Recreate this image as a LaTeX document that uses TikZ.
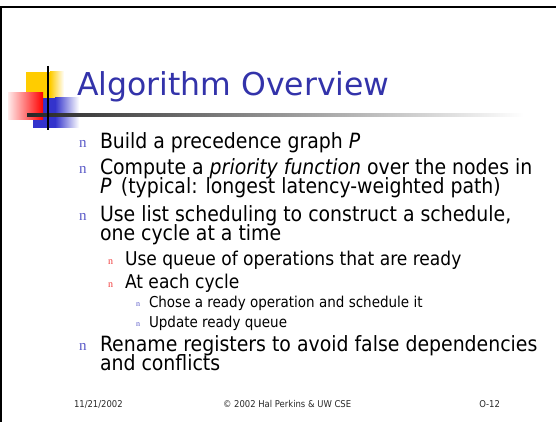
\documentclass[tikz,border=0pt]{standalone}
\usepackage{fontspec}
\setmainfont{DejaVu Sans Condensed}[ItalicFont={DejaVu Sans Condensed Oblique}]
\newfontfamily\titlefont{DejaVu Sans}
\newfontfamily\bulletfont{Liberation Serif}
\definecolor{titleblue}{RGB}{51,51,170}
\definecolor{markblue}{RGB}{90,90,200}
\definecolor{markred}{RGB}{240,60,60}
\definecolor{deco yellow}{RGB}{255,204,0}
\definecolor{deco blue}{RGB}{51,51,204}
\definecolor{footgray}{RGB}{40,40,40}
\begin{document}
\begin{tikzpicture}[x=1pt,y=-1pt,
  txt/.style={anchor=base west,inner sep=0pt,outer sep=0pt},
  lvlone/.style={txt,font=\fontsize{21}{24}\selectfont},
  lvltwo/.style={txt,font=\fontsize{19}{22}\selectfont},
  lvlthree/.style={txt,font=\fontsize{15}{18}\selectfont},
  markone/.style={txt,font=\bulletfont\fontsize{15}{18}\selectfont,text=markblue},
  marktwo/.style={txt,font=\bulletfont\fontsize{10}{12}\selectfont,text=markred},
  markthree/.style={txt,font=\bulletfont\fontsize{8}{10}\selectfont,text=markblue},
  foot/.style={txt,font=\fontsize{9.4}{11}\selectfont,text=footgray}]
\useasboundingbox (0,0) rectangle (556,422);
\fill[white] (0,0) rectangle (556,422);

% slide frame
\draw[line width=2.4pt,black] (1.2,422) -- (1.2,7) -- (556,7);

% title ornament: coloured squares, crossing rules
\fill[deco yellow] (26,72) rectangle (50,100);
\shade[left color=deco yellow,right color=white] (50,72) rectangle (64,100);
\fill[deco blue] (33,98) rectangle (55,128);
\shade[left color=deco blue,right color=white] (55,98) rectangle (79,128);
\shade[left color=red!8,right color=red] (8,93) rectangle (43,120);
\shade[left color=black!85,right color=white] (27,113.7) rectangle (524,116.3);
\draw[line width=2pt,black] (48,66) -- (48,130);

% title
\node[txt,font=\titlefont\fontsize{31.5}{36}\selectfont,text=titleblue] (title) at (77,96) {Algorithm Overview};

% level one items
\node[markone] (m1) at (79,148) {n};
\node[lvlone] (t1) at (100,149) {Build a precedence graph \textit{P}};
\node[markone] (m2) at (79,174) {n};
\node[lvlone] (t2a) at (100,175) {Compute a \textit{priority function} over the nodes in};
\node[lvlone] (t2b) at (100,193) {\textit{P}\, (typical: longest latency-weighted path)};
\node[markone] (m3) at (79,220) {n};
\node[lvlone] (t3a) at (100,221) {Use list scheduling to construct a schedule,};
\node[lvlone] (t3b) at (100,240) {one cycle at a time};

% level two items
\node[marktwo] (m31) at (108,264) {n};
\node[lvltwo] (t31) at (125,265) {Use queue of operations that are ready};
\node[marktwo] (m32) at (108,287) {n};
\node[lvltwo] (t32) at (125,288) {At each cycle};

% level three items
\node[markthree] (m321) at (136,306) {n};
\node[lvlthree] (t321) at (149,307) {Chose a ready operation and schedule it};
\node[markthree] (m322) at (136,326) {n};
\node[lvlthree] (t322) at (149,327) {Update ready queue};

% last level one item
\node[markone] (m4) at (79,350) {n};
\node[lvlone] (t4a) at (100,351) {Rename registers to avoid false dependencies};
\node[lvlone] (t4b) at (100,370) {and conflicts};

% footer
\node[foot] (date) at (74,407) {11/21/2002};
\node[foot] (copy) at (223,407) {© 2002 Hal Perkins \& UW CSE};
\node[foot,anchor=base east] (page) at (500,407) {O-12};
\end{tikzpicture}
\end{document}
